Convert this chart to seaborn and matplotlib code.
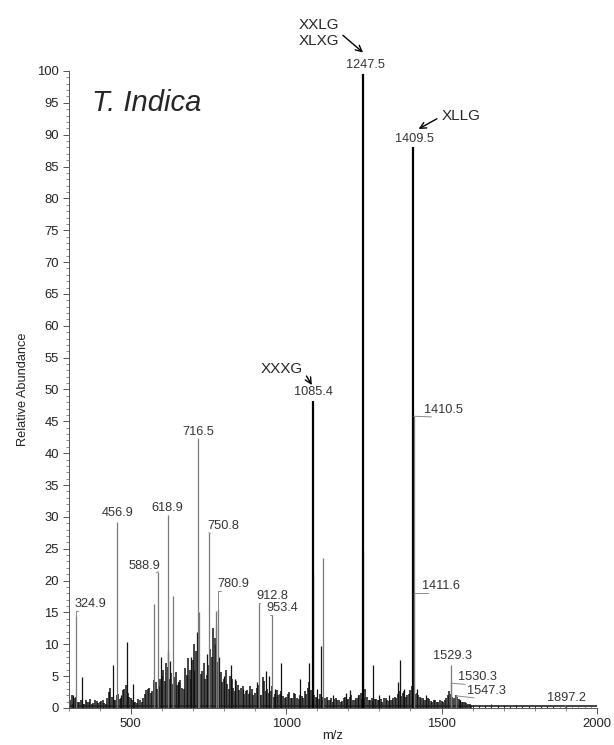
import numpy as np
import seaborn as sns
import matplotlib
matplotlib.use("Agg")
from matplotlib import pyplot as plt
from matplotlib.ticker import MultipleLocator

# labelled peaks (m/z, relative abundance) and where their labels sit
peak_mz = [324.9, 456.9, 588.9, 618.9, 716.5, 750.8, 780.9, 912.8, 953.4,
           1085.4, 1247.5, 1409.5, 1410.5, 1411.6, 1529.3, 1530.3, 1547.3, 1897.2]
peak_int = [14.5, 29.2, 21.4, 30.3, 42.4, 27.5, 15.5, 16.5, 14.6,
            48.2, 99.6, 88.0, 45.8, 18.1, 6.7, 3.9, 1.9, 0.4]
label_mz = [369, 457, 543, 618, 717.5, 797, 830, 956, 989,
            1087, 1254, 1414, 1507, 1497, 1534, 1616, 1644, 1901]
label_int = [16.3, 30.6, 22.3, 31.4, 43.4, 28.5, 19.5, 17.6, 15.7,
             49.6, 101.0, 89.4, 46.8, 19.2, 8.1, 4.8, 2.7, 1.6]

# unlabelled peaks
minor_mz = [315, 342, 430, 444, 470, 487, 507, 574, 598, 620, 626, 636, 652, 680,
            694, 705, 713, 720, 745, 770, 773, 776, 785, 800, 822, 834, 860, 880,
            905, 934, 945, 965, 982, 1044, 1072, 1086.4, 1100, 1113, 1118, 1150,
            1191, 1207, 1230, 1248.5, 1278, 1300, 1330, 1360, 1366, 1380, 1420,
            1450, 1560]
minor_int = [2.0, 4.8, 2.5, 6.7, 2.0, 10.3, 3.8, 16.3, 8.0, 9.0, 7.4, 17.6, 4.0, 5.0,
             8.0, 6.0, 12.0, 15.0, 8.4, 10.0, 15.2, 13.0, 8.0, 5.0, 6.7, 4.5, 3.0, 2.5,
             4.0, 5.8, 5.0, 3.0, 7.1, 4.5, 7.0, 21.0, 3.0, 9.7, 23.5, 2.0,
             2.4, 2.9, 2.0, 25.0, 6.7, 2.0, 2.0, 4.0, 7.5, 3.0, 3.0,
             2.0, 1.2]

# baseline grass, read every 10 m/z (two interleaved passes)
grass_a = [0.8, 2.0, 1.5, 0.9, 1.2, 0.7, 1.0, 1.4, 0.8, 1.1,
           0.9, 1.3, 0.7, 2.5, 1.8, 1.2, 2.2, 1.6, 3.0, 2.4,
           1.5, 1.0, 0.8, 1.2, 1.6, 2.8, 3.2, 2.6, 4.0, 3.5,
           5.0, 4.2, 6.5, 5.5, 4.8, 3.6, 4.4, 3.0, 5.2, 6.0,
           7.5, 9.0, 6.2, 5.8, 4.6, 6.8, 8.0, 11.0, 7.2, 5.6,
           4.5, 3.8, 5.0, 3.2, 4.2, 2.8, 3.4, 2.6, 2.2, 3.0,
           2.4, 3.6, 2.0, 4.2, 3.0, 2.6, 1.8, 2.8, 2.2, 1.9,
           1.8, 2.5, 1.6, 2.2, 1.4, 1.9, 2.6, 3.2, 2.8, 2.0,
           1.6, 2.2, 1.3, 1.8, 1.2, 1.0, 1.5, 1.3, 1.1, 1.7,
           1.4, 2.0, 1.2, 1.6, 2.4, 1.5, 1.8, 1.3, 1.1, 1.4,
           1.2, 1.0, 1.5, 1.1, 1.3, 1.8, 2.2, 1.9, 2.6, 2.0,
           2.8, 3.0, 2.4, 1.8, 1.5, 1.2, 1.4, 1.0, 1.2, 0.9,
           1.1, 1.3, 2.0, 2.2, 1.6, 1.8, 1.2, 1.0, 0.8, 0.6]
grass_b = [1.2, 0.6, 1.8, 1.0, 0.7, 1.3, 0.9, 0.6, 1.2, 0.8,
           1.1, 0.8, 1.5, 3.2, 1.2, 2.0, 1.4, 2.8, 3.6, 1.8,
           1.2, 0.9, 1.4, 1.0, 2.2, 3.0, 2.4, 4.4, 3.0, 4.6,
           6.0, 7.0, 4.6, 3.8, 5.6, 4.0, 3.2, 6.2, 7.8, 4.5,
           10.0, 8.5, 5.4, 7.0, 5.2, 9.2, 12.5, 6.4, 4.8, 4.0,
           6.0, 3.0, 4.6, 2.6, 3.6, 3.2, 2.2, 2.9, 3.4, 2.0,
           3.2, 2.0, 4.8, 2.6, 2.4, 3.4, 2.2, 2.0, 2.6, 1.6,
           2.2, 1.6, 2.4, 1.5, 2.0, 1.6, 2.2, 4.0, 2.4, 1.8,
           1.4, 1.8, 1.6, 1.2, 1.5, 1.4, 1.2, 1.0, 1.6, 1.2,
           1.8, 1.3, 1.6, 2.0, 1.4, 3.0, 1.2, 1.6, 1.4, 1.2,
           1.4, 1.6, 1.2, 1.3, 1.6, 1.5, 2.6, 2.4, 1.8, 2.2,
           3.4, 2.2, 2.0, 1.6, 1.3, 1.6, 1.1, 1.3, 1.0, 1.2,
           0.9, 1.6, 2.6, 1.8, 2.0, 1.4, 1.0, 0.9, 0.7, 0.5]
tail_int = [0.5, 0.4, 0.5, 0.6, 0.4, 0.5, 0.3, 0.4, 0.3, 0.35,
            0.3, 0.25, 0.3, 0.25, 0.2, 0.25, 0.2, 0.2, 0.15, 0.15]

grass_a_mz = np.arange(300, 1600, 10)
grass_b_mz = np.arange(305, 1600, 10)
tail_mz = np.arange(1600, 2000, 20)

sns.set_theme(style="ticks")
plt.rcParams["font.family"] = ["Liberation Sans", "DejaVu Sans"]

fig = plt.figure(figsize=(6.14, 7.45), dpi=100)
ax = fig.add_axes([0.1116, 0.0497, 0.8607, 0.855])

ax.vlines(grass_a_mz, 0, grass_a, color="#111111", lw=1.1)
ax.vlines(grass_b_mz, 0, grass_b, color="#111111", lw=1.1)
ax.vlines(tail_mz, 0, tail_int, color="#333333", lw=0.8)
ax.plot([300, 2000], [0.25, 0.25], color="#222222", lw=1.2)

minor_mz = np.array(minor_mz)
minor_int = np.array(minor_int)
tall = minor_int > 12
ax.vlines(minor_mz[~tall], 0, minor_int[~tall], color="#111111", lw=0.9)
ax.vlines(minor_mz[tall], 0, minor_int[tall], color="#777777", lw=0.9)

big = {1085.4, 1247.5, 1409.5}
for mz, h, lx, ly in zip(peak_mz, peak_int, label_mz, label_int):
    if mz in big:
        ax.vlines(mz, 0, h, color="black", lw=1.6)
    else:
        ax.vlines(mz, 0, h, color="#7a7a7a", lw=0.9)
    # leader line for labels that sit off to the side
    if abs(lx - mz) > 20:
        lead_y = ly - 1.1
        if lead_y > h:
            ax.plot([mz, mz], [h, lead_y], color="#8a8a8a", lw=0.7)
        end_x = lx - 40 if lx > mz else lx + 40
        ax.plot([mz, end_x], [max(h, lead_y), lead_y], color="#8a8a8a", lw=0.7,
                clip_on=False)
    ax.text(lx, ly, f"{mz:.1f}", ha="center", va="center", fontsize=9.2,
            color="#333333", clip_on=False)

# glycan annotations
ax.annotate("XXLG\nXLXG", xy=(1247.5, 102.9), xytext=(1107, 106.0),
            ha="center", va="center", fontsize=11, linespacing=1.15,
            annotation_clip=False,
            arrowprops=dict(arrowstyle="->", lw=1.0, color="black",
                            shrinkA=0, shrinkB=0, relpos=(1.05, 0.45)))
ax.annotate("XLLG", xy=(1426, 90.9), xytext=(1562, 93.0),
            ha="center", va="center", fontsize=11, annotation_clip=False,
            arrowprops=dict(arrowstyle="->", lw=1.0, color="black",
                            shrinkA=1, shrinkB=0, relpos=(0, 0.45)))
ax.annotate("XXXG", xy=(1082.7, 50.7), xytext=(1055, 53.2),
            ha="right", va="center", fontsize=11, annotation_clip=False,
            arrowprops=dict(arrowstyle="->", lw=1.0, color="black",
                            shrinkA=0, shrinkB=0, relpos=(1.0, 0.4)))

ax.text(0.045, 0.95, "T. Indica", transform=ax.transAxes, fontsize=21,
        style="italic", ha="left", va="center")

ax.set_xlim(300, 2000)
ax.set_ylim(0, 100)
ax.set_xticks([500, 1000, 1500, 2000])
ax.xaxis.set_minor_locator(MultipleLocator(100))
ax.yaxis.set_major_locator(MultipleLocator(5))
ax.yaxis.set_minor_locator(MultipleLocator(1))
ax.tick_params(which="major", length=4.5, width=0.7, colors="#555555",
               labelcolor="#222222", labelsize=9.4, pad=2.5)
ax.tick_params(which="minor", length=2.5, width=0.6, colors="#777777")
for side in ["left", "bottom"]:
    ax.spines[side].set_color("#555555")
    ax.spines[side].set_linewidth(0.7)
sns.despine(ax=ax)

fig.text(0.038, 0.478, "Relative Abundance", rotation=90, ha="center",
         va="center", fontsize=9.2, color="#222222")
fig.text(0.542, 0.02, "m/z", ha="center", va="top", fontsize=9.4, color="#222222")

fig.savefig("out.png", dpi=100)
